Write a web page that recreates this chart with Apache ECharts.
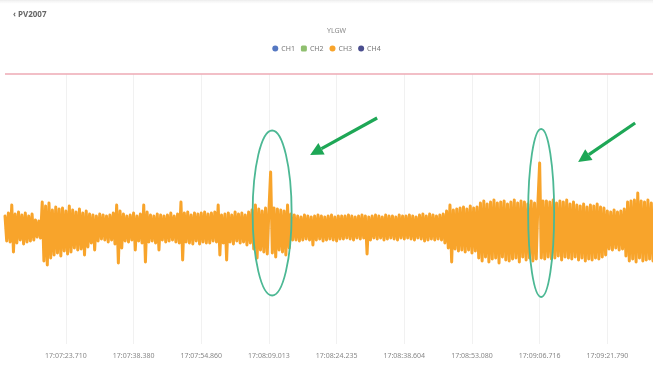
<!DOCTYPE html>
<html>
<head>
<meta charset="utf-8">
<script src="https://cdn.jsdelivr.net/npm/echarts@6/dist/echarts.min.js"></script>
<style>
  html, body { margin: 0; padding: 0; background: #fff; }
  #chart { width: 653px; height: 369px; }
</style>
</head>
<body>
<div id="chart"></div>
<script>
// Channel names shown in the legend
const channels = ['CH1', 'CH2', 'CH3', 'CH4'];

// Timestamps printed under the x axis (one every 40 samples, starting at sample 36)
const tickLabels = [
  '17:07:23.710', '17:07:38.380', '17:07:54.860', '17:08:09.013', '17:08:24.235',
  '17:08:38.604', '17:08:53.080', '17:09:06.716', '17:09:21.790'
];
const firstLabelIndex = 36;
const labelStep = 40;

// CH3 vibration trace (peak / trough sequence)
const signal = [
  12,-13,15,-14,23,-24,14,-15,16,-12,13,-16,15,-14,12,-13,14,-12,8,-9,
  7,-10,26,-33,22,-37,25,-30,18,-27,21,-25,19,-28,20,-23,17,-26,22,-24,
  18,-20,16,-22,19,-21,15,-27,17,-19,14,-15,13,-22,12,-13,14,-11,13,-12,
  12,-14,13,-12,15,-16,23,-35,17,-20,14,-13,12,-14,13,-12,15,-22,12,-13,
  14,-15,23,-34,16,-14,13,-13,12,-15,14,-22,13,-12,12,-14,13,-13,15,-12,
  12,-14,14,-15,26,-32,15,-14,16,-15,13,-16,15,-13,14,-16,15,-14,16,-15,
  14,-15,15,-13,16,-14,23,-27,13,-15,14,-32,15,-14,13,-16,16,-13,14,-15,
  15,-14,13,-17,16,-15,18,-21,23,-30,19,-22,17,-24,20,-26,18,56,-25,20,
  -29,19,-22,18,-24,17,-27,23,-20,14,-12,13,-12,12,-13,11,-12,13,-11,12,
  -12,11,-17,12,-12,13,-11,12,-13,11,-12,12,-11,13,-12,11,-13,12,-11,12,
  -11,12,-10,13,-11,12,-12,11,-10,12,-11,13,-10,12,-26,11,-12,12,-10,13,
  -11,12,-10,11,-12,13,-11,12,-10,12,-11,11,-12,13,-10,12,-11,12,-10,13,
  -11,12,-12,11,-10,13,-11,14,-13,12,-12,14,-11,13,-12,12,-11,13,-12,14,
  -15,17,-20,23,-34,18,-21,19,-23,20,-22,21,-24,19,-22,22,-25,20,-23,21,
  -30,25,-33,27,-29,24,-34,26,-31,28,-30,25,-35,26,-29,27,-32,24,-33,26,
  -31,28,-30,25,-34,27,-29,26,-32,24,-30,27,-33,25,-31,26,65,-30,27,-31,
  27,-29,26,-31,28,-30,25,-28,27,-32,26,-29,28,-30,24,-31,26,-29,23,-32,
  22,-30,24,-33,21,-31,23,-32,22,-30,24,-31,21,-29,20,-27,17,-21,16,-22,
  18,-20,16,-22,17,-21,19,-28,26,-33,27,-31,28,-34,35,-30,27,-33,26,-32,
  28,-31,25,-33
];

// Upper alarm limit
const upperLimit = 154;

// Samples whose isolated spikes are circled
const spikeSamples = [157, 316];

const colors = ['#5578c2', '#8fbf6f', '#f8a42b', '#4a4e8e'];
const sampleIndex = signal.map((_, i) => i);
const isLabelIndex = (i) => i >= firstLabelIndex && (i - firstLabelIndex) % labelStep === 0;

const chart = echarts.init(document.getElementById('chart'), null, { renderer: 'canvas' });

chart.setOption({
  animation: false,
  color: colors,
  textStyle: { fontFamily: 'Noto Sans, sans-serif' },
  title: [
    { text: '‹ PV2007', left: 8, top: 6, textStyle: { fontSize: 8, fontWeight: 'bold', color: '#666' } },
    { text: 'YLGW', left: 322, top: 22, textStyle: { fontSize: 7, fontWeight: 'normal', color: '#888' } }
  ],
  legend: {
    top: 40,
    left: 'center',
    itemWidth: 6,
    itemHeight: 6,
    itemGap: 6,
    textStyle: { fontSize: 7, color: '#777', padding: [0, 0, 0, -2] },
    data: channels.map((name, k) => ({ name, icon: k === 1 ? 'roundRect' : 'circle' }))
  },
  grid: { left: 5, right: 0, top: 74, bottom: 25 },
  xAxis: {
    type: 'category',
    boundaryGap: false,
    data: sampleIndex,
    axisLine: { lineStyle: { color: '#e4e4e4' } },
    axisTick: { show: false },
    axisLabel: {
      interval: (i) => isLabelIndex(i),
      formatter: (v, i) => tickLabels[(i - firstLabelIndex) / labelStep] || '',
      fontSize: 7,
      color: '#888',
      margin: 8
    },
    splitLine: { show: true, interval: (i) => isLabelIndex(i), lineStyle: { color: '#f1f1f1' } }
  },
  yAxis: {
    type: 'value',
    min: -116,
    max: upperLimit,
    axisLabel: { show: false },
    axisLine: { show: false },
    axisTick: { show: false },
    splitLine: { show: false }
  },
  series: channels.map((name, k) => ({
    name,
    type: 'line',
    symbol: 'none',
    data: k === 2 ? signal : [],
    lineStyle: { width: 3, color: colors[k], join: 'round', cap: 'round' },
    markLine: k === 2 ? {
      silent: true,
      symbol: 'none',
      label: { show: false },
      lineStyle: { color: '#eeaab4', width: 1.6, type: 'solid' },
      data: [{ yAxis: upperLimit }]
    } : undefined
  }))
});

// Green rings around the spikes and the arrows pointing at them
const ringColor = '#4cb894';
const arrowColor = '#1ea756';
const ringSizes = [[19.5, 82.5], [13, 84]];
const arrowOffsets = [
  { tail: [105, -95], tip: [38, -58] },
  { tail: [94, -90], tip: [37, -51] }
];

function arrowHead(tail, tip, len, half) {
  const dx = tip[0] - tail[0], dy = tip[1] - tail[1];
  const d = Math.hypot(dx, dy);
  const ux = dx / d, uy = dy / d;
  const bx = tip[0] - ux * len, by = tip[1] - uy * len;
  return {
    base: [bx, by],
    points: [tip, [bx - uy * half, by + ux * half], [bx + uy * half, by - ux * half]]
  };
}

const elements = [];
spikeSamples.forEach((s, k) => {
  const c = chart.convertToPixel({ xAxisIndex: 0, yAxisIndex: 0 }, [s, 15]);
  c[0] += 1.5;
  elements.push({
    type: 'ellipse',
    shape: { cx: c[0], cy: c[1], rx: ringSizes[k][0], ry: ringSizes[k][1] },
    style: { fill: null, stroke: ringColor, lineWidth: 1.8 },
    z: 10
  });
  const tail = [c[0] + arrowOffsets[k].tail[0], c[1] + arrowOffsets[k].tail[1]];
  const tip = [c[0] + arrowOffsets[k].tip[0], c[1] + arrowOffsets[k].tip[1]];
  const head = arrowHead(tail, tip, 13, 6.5);
  elements.push({
    type: 'line',
    shape: { x1: tail[0], y1: tail[1], x2: head.base[0], y2: head.base[1] },
    style: { stroke: arrowColor, lineWidth: 3.2 },
    z: 10
  });
  elements.push({
    type: 'polygon',
    shape: { points: head.points },
    style: { fill: arrowColor },
    z: 10
  });
});

// Faint header shadow along the top edge
elements.push({
  type: 'rect',
  shape: { x: 0, y: 0, width: 653, height: 5 },
  style: {
    fill: new echarts.graphic.LinearGradient(0, 0, 0, 1, [
      { offset: 0, color: '#ececec' }, { offset: 1, color: 'rgba(255,255,255,0)' }
    ])
  },
  z: 1
});

chart.setOption({ graphic: { elements } });
</script>
</body>
</html>
